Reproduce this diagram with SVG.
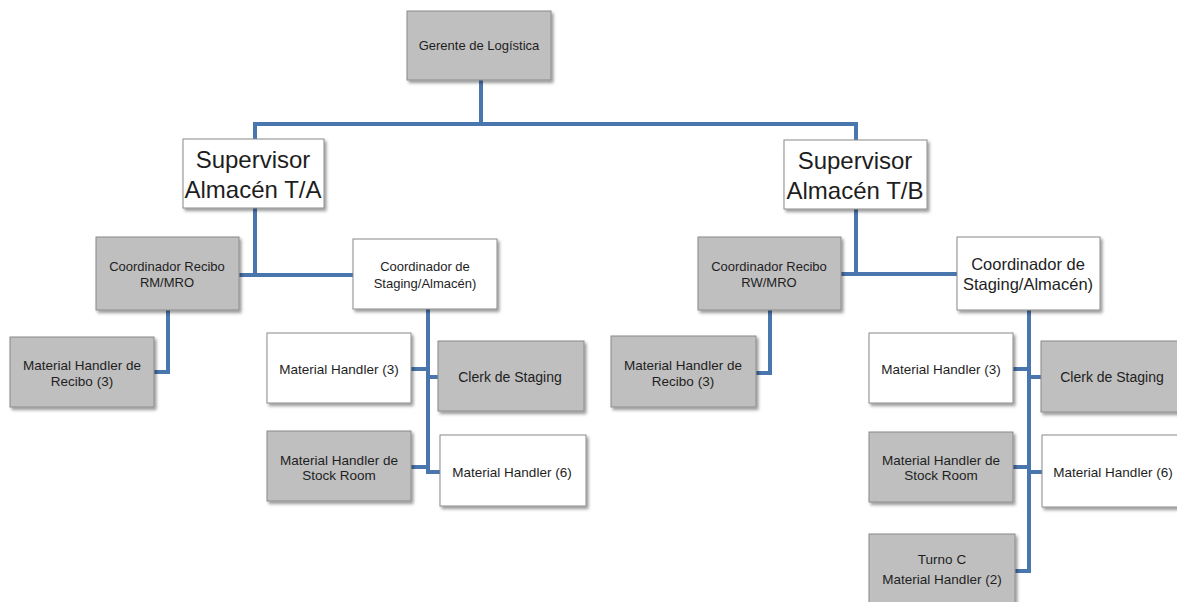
<svg xmlns="http://www.w3.org/2000/svg" width="1177" height="602" viewBox="0 0 1177 602">
<defs>
<filter id="sh" x="-10%" y="-10%" width="130%" height="140%">
<feDropShadow dx="2" dy="2.5" stdDeviation="1.5" flood-color="#000" flood-opacity="0.4"/>
</filter>
<style>
.g{fill:#bfbfbf;stroke:#8a8a8a;stroke-width:1;filter:url(#sh)}
.w{fill:#ffffff;stroke:#8a8a8a;stroke-width:1;filter:url(#sh)}
text{font-family:"Liberation Sans",Arial,sans-serif;fill:#1e1e1e;text-anchor:middle}
.s13{font-size:13px}
.s135{font-size:13.5px}
.s14{font-size:14px}
.s165{font-size:16.5px}
.s24{font-size:24px}
.c{fill:none;stroke:#4a76ae;stroke-width:4}
</style>
</defs>
<rect width="1177" height="602" fill="#ffffff"/>
<g id="connectors">
<path class="c" d="M481,80 V124 M253,124 H858 M255,124 V139 M856,124 V140"/>
<path class="c" d="M255,208 V275 M239,275 H353"/>
<path class="c" d="M168,310 V372 H154"/>
<path class="c" d="M428,309 V474 M411,369 H428 M428,377 H438 M411,467 H428 M428,472 H440"/>
<path class="c" d="M856,209 V274 M841,274 H957"/>
<path class="c" d="M770,310 V373 H756"/>
<path class="c" d="M1029,310 V573 M1013,369 H1029 M1029,377 H1041 M1013,467 H1029 M1029,472 H1042 M1015,571 H1029"/>
</g>
<g id="gerente"><rect class="g" x="407" y="11" width="144" height="69"/><text class="s13" x="479" y="50">Gerente de Logística</text></g>
<g id="supA"><rect class="w" x="183" y="139" width="141" height="69"/><text class="s24" x="253" y="168">Supervisor</text><text class="s24" x="253" y="198">Almacén T/A</text></g>
<g id="supB"><rect class="w" x="784" y="140" width="143" height="69"/><text class="s24" x="855" y="169">Supervisor</text><text class="s24" x="855" y="199">Almacén T/B</text></g>
<g id="recA"><rect class="g" x="96" y="237" width="143" height="73"/><text class="s13" x="167" y="271">Coordinador Recibo</text><text class="s13" x="167" y="287">RM/MRO</text></g>
<g id="stgA"><rect class="w" x="353" y="239" width="144" height="70"/><text class="s13" x="425" y="271">Coordinador de</text><text class="s13" x="425" y="288">Staging/Almacén)</text></g>
<g id="mhRecA"><rect class="g" x="10" y="337" width="144" height="70"/><text class="s135" x="82" y="370">Material Handler de</text><text class="s135" x="82" y="386">Recibo (3)</text></g>
<g id="mh3A"><rect class="w" x="267" y="333" width="144" height="70"/><text class="s135" x="339" y="374">Material Handler (3)</text></g>
<g id="clerkA"><rect class="g" x="438" y="341" width="146" height="70"/><text class="s14" x="510" y="382">Clerk de Staging</text></g>
<g id="stockA"><rect class="g" x="267" y="431" width="144" height="70"/><text class="s135" x="339" y="465">Material Handler de</text><text class="s135" x="339" y="480">Stock Room</text></g>
<g id="mh6A"><rect class="w" x="440" y="435" width="146" height="71"/><text class="s135" x="512" y="477">Material Handler (6)</text></g>
<g id="recB"><rect class="g" x="698" y="237" width="143" height="73"/><text class="s13" x="769" y="271">Coordinador Recibo</text><text class="s13" x="769" y="287">RW/MRO</text></g>
<g id="stgB"><rect class="w" x="957" y="237" width="143" height="73"/><text class="s165" x="1028" y="270">Coordinador de</text><text class="s165" x="1028" y="290">Staging/Almacén)</text></g>
<g id="mhRecB"><rect class="g" x="611" y="336" width="145" height="71"/><text class="s135" x="683" y="370">Material Handler de</text><text class="s135" x="683" y="386">Recibo (3)</text></g>
<g id="mh3B"><rect class="w" x="869" y="333" width="144" height="70"/><text class="s135" x="941" y="374">Material Handler (3)</text></g>
<g id="clerkB"><rect class="g" x="1041" y="341" width="142" height="71"/><text class="s14" x="1112" y="382">Clerk de Staging</text></g>
<g id="stockB"><rect class="g" x="869" y="432" width="144" height="70"/><text class="s135" x="941" y="465">Material Handler de</text><text class="s135" x="941" y="480">Stock Room</text></g>
<g id="mh6B"><rect class="w" x="1042" y="435" width="142" height="72"/><text class="s135" x="1113" y="477">Material Handler (6)</text></g>
<g id="turnoC"><rect class="g" x="869" y="534" width="146" height="76"/><text class="s135" x="942" y="564">Turno C</text><text class="s135" x="942" y="584">Material Handler (2)</text></g>
</svg>
